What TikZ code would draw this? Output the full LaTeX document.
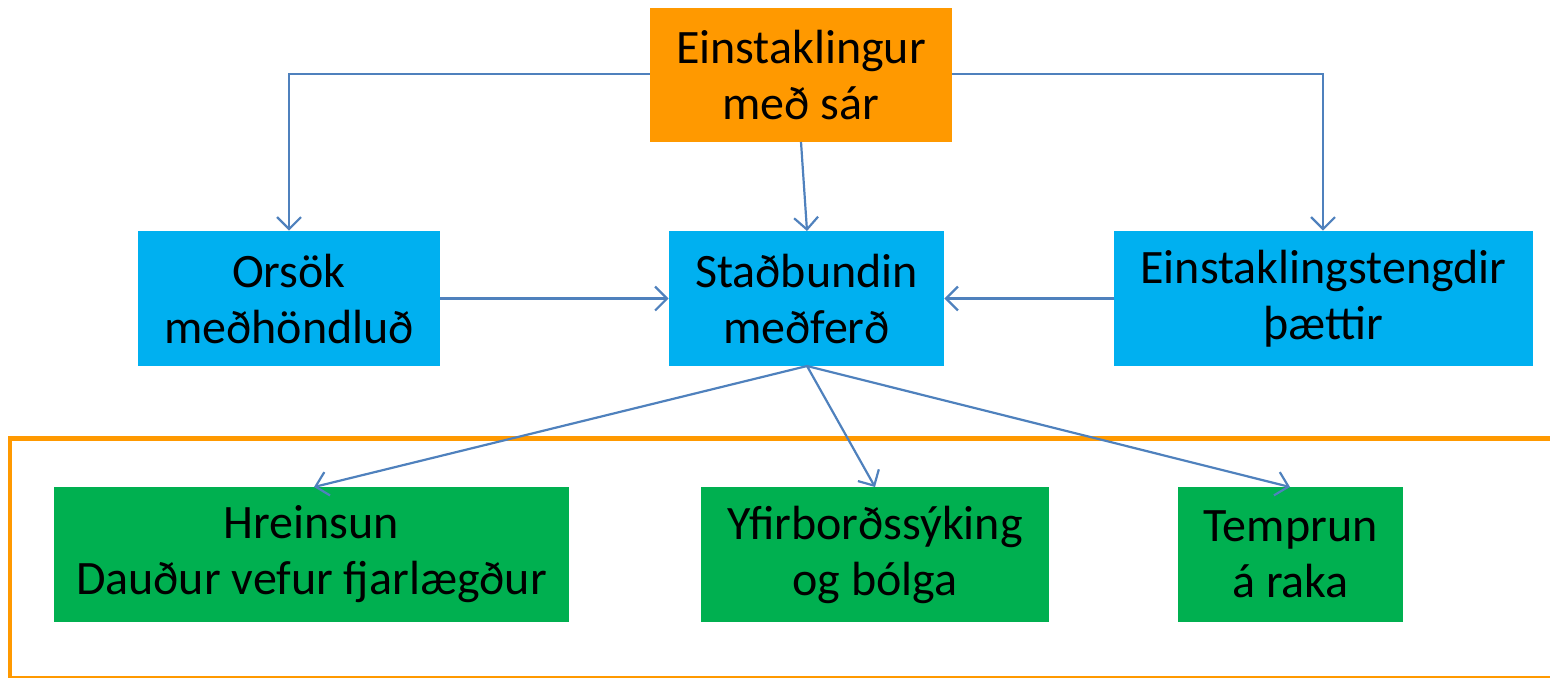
\documentclass[tikz,border=0pt]{standalone}
\usepackage{fontspec}
\setmainfont{Carlito}
\usetikzlibrary{arrows.meta}
\definecolor{topor}{HTML}{FF9900}
\definecolor{midbl}{HTML}{00B0F0}
\definecolor{lowgr}{HTML}{00B050}
\definecolor{arrbl}{HTML}{4F81BD}
\begin{document}
\begin{tikzpicture}[x=0.5pt,y=-0.5pt,
  boxbase/.style={inner sep=0pt, align=center, font=\fontsize{24pt}{28pt}\selectfont, text=black},
  orangebox/.style={boxbase, fill=topor},
  bluebox/.style={boxbase, fill=midbl},
  greenbox/.style={boxbase, fill=lowgr},
  conn/.style={draw=arrbl, line width=1.1pt, -{Straight Barb[length=6pt,width=12pt,line width=1.1pt]}}]
\useasboundingbox (0,0) rectangle (1550,677);
\clip (0,0) rectangle (1550,677);
% frame
\draw[topor, line width=2.4pt] (10,438.5) rectangle (1600,678);
% nodes
\node[orangebox, minimum width=151pt, minimum height=67pt] (top) at (801,75) {Einstaklingur\\með sár};
\node[bluebox, minimum width=151pt, minimum height=67.5pt] (ors) at (289,298.5) {Orsök\\meðhöndluð};
\node[bluebox, minimum width=137.5pt, minimum height=67.5pt] (sta) at (806.5,298.5) {Staðbundin\\meðferð};
\node[bluebox, minimum width=209.5pt, minimum height=67.5pt] (ein) at (1323.5,298.5) {Einstaklingstengdir\\þættir};
\node[greenbox, minimum width=257.5pt, minimum height=67.5pt] (hre) at (311.5,554.5) {Hreinsun\\Dauður vefur fjarlægður};
\node[greenbox, minimum width=174pt, minimum height=67.5pt] (yfi) at (875,554.5) {Yfirborðssýking\\og bólga};
\node[greenbox, minimum width=112.5pt, minimum height=67.5pt] (tem) at (1290.5,554.5) {Temprun\\á raka};
% connectors
\coordinate (tl) at (289,74);
\coordinate (tr) at (1323,74);
\draw[conn] (top.west |- tl) -- (tl) -- (ors.north -| tl);
\draw[conn] (top.east |- tr) -- (tr) -- (ein.north -| tr);
\draw[conn] (801,142) -- (807,231);
\draw[conn] (ors.east) -- (sta.west);
\draw[conn] (ein.west) -- (sta.west -| sta.east);
\coordinate (sb) at (807,366);
\draw[conn] (sb) -- (314,487);
\draw[conn] (sb) -- (875,487);
\draw[conn] (sb) -- (1290,487);
\end{tikzpicture}
\end{document}
